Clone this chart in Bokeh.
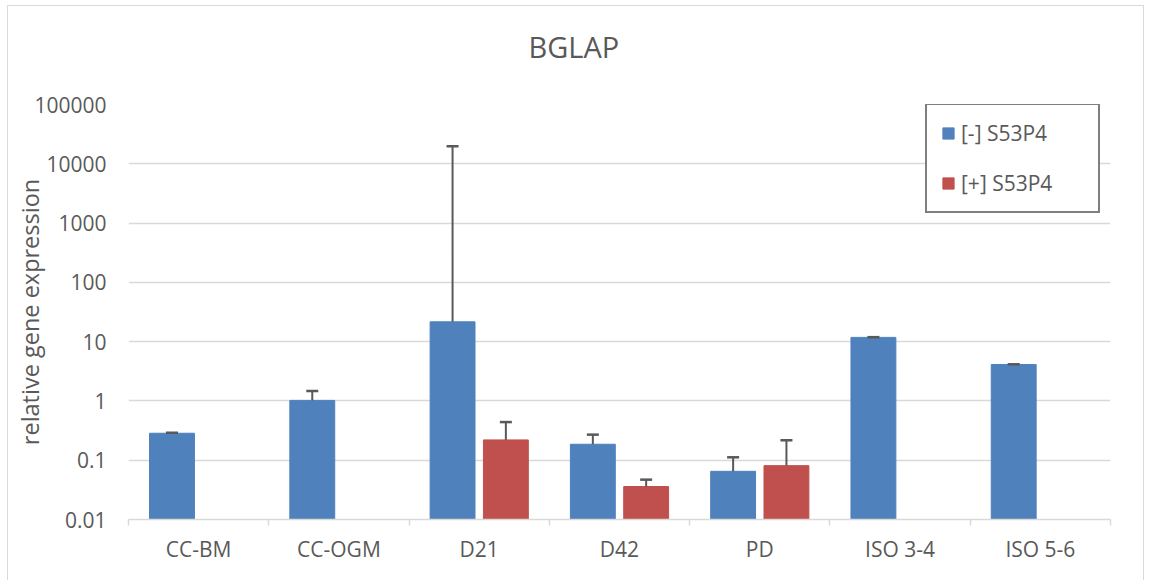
import numpy as np
from bokeh.plotting import figure
from bokeh.models import (ColumnDataSource, Range1d, FixedTicker, CustomJSTickFormatter,
                          Whisker, TeeHead, Title)
from bokeh.embed import file_html
from bokeh.resources import INLINE

# ---- data ----
categories = ["CC-BM", "CC-OGM", "D21", "D42", "PD", "ISO 3-4", "ISO 5-6"]
neg_values = [0.285, 1.02, 21.6, 0.186, 0.065, 11.8, 4.12]
neg_err_top = [0.29, 1.47, 19700, 0.27, 0.112, 11.9, 4.15]
pos_categories = ["D21", "D42", "PD"]
pos_values = [0.22, 0.036, 0.081]
pos_err_top = [0.44, 0.047, 0.217]
y_ticks = [0.01, 0.1, 1, 10, 100, 1000, 10000, 100000]
y_tick_labels = ["0.01", "0.1", "1", "10", "100", "1000", "10000", "100000"]
chart_title = "BGLAP"

BLUE = "#4F81BD"
RED = "#C0504D"
GREY = "#595959"
FONT = "Open Sans"
OFFSET = 0.19
BAR_W = 0.32

idx_neg = np.array([categories.index(c) for c in categories]) + 0.5
idx_pos = np.array([categories.index(c) for c in pos_categories]) + 0.5

src_neg = ColumnDataSource(dict(x=idx_neg - OFFSET, top=neg_values, err=neg_err_top,
                                bottom=[y_ticks[0]] * len(neg_values)))
src_pos = ColumnDataSource(dict(x=idx_pos + OFFSET, top=pos_values, err=pos_err_top,
                                bottom=[y_ticks[0]] * len(pos_values)))

p = figure(frame_width=982, frame_height=415, y_axis_type="log",
           x_range=Range1d(0, len(categories)), y_range=Range1d(y_ticks[0], y_ticks[-1]),
           output_backend="svg", toolbar_location=None, title_location=None,
           min_border_left=120, min_border_right=33, min_border_top=98, min_border_bottom=61)

p.vbar(x="x", top="top", bottom="bottom", width=BAR_W, source=src_neg,
       fill_color=BLUE, line_color=BLUE, legend_label="[-] S53P4")
p.vbar(x="x", top="top", bottom="bottom", width=BAR_W, source=src_pos,
       fill_color=RED, line_color=RED, legend_label="[+] S53P4")

for src in (src_neg, src_pos):
    w = Whisker(base="x", lower="top", upper="err", source=src, dimension="height",
                line_color=GREY, line_width=2, lower_head=None,
                upper_head=TeeHead(size=12, line_color=GREY, line_width=2.5),
                level="annotation")
    p.add_layout(w)

# title: a blank spacer panel next to the frame, then the title text above it
spacer = Title(text=" ", text_font=FONT, text_font_size="10px", standoff=23)
p.add_layout(spacer, "above")
main_title = Title(text=chart_title, text_font=FONT, text_font_size="29px",
                   text_font_style="normal", text_color=GREY, align="left",
                   offset=400, standoff=0)
p.add_layout(main_title, "above")

# y axis
yax = p.yaxis[0]
yax.ticker = FixedTicker(ticks=y_ticks)
yax.formatter = CustomJSTickFormatter(args=dict(yvals=y_ticks, ylabs=y_tick_labels), code="""
let best = 0; let bd = Infinity;
for (let i = 0; i < yvals.length; i++) {
  const d = Math.abs(Math.log10(yvals[i]) - Math.log10(tick));
  if (d < bd) { bd = d; best = i; }
}
return ylabs[best];
""")
yax.axis_line_color = None
yax.major_tick_line_color = None
yax.minor_tick_line_color = None
yax.major_label_text_font = FONT
yax.major_label_text_font_size = "21px"
yax.major_label_text_color = GREY
yax.major_label_standoff = 16
yax.axis_label = "relative gene expression"
yax.axis_label_text_font = FONT
yax.axis_label_text_font_size = "23.5px"
yax.axis_label_text_font_style = "normal"
yax.axis_label_text_color = GREY
yax.axis_label_standoff = -15

# x axis
xax = p.xaxis[0]
xax.ticker = FixedTicker(ticks=list(np.arange(len(categories)) + 0.5),
                         minor_ticks=list(range(len(categories) + 1)))
xax.formatter = CustomJSTickFormatter(args=dict(cat_labels=categories),
                                      code="return cat_labels[Math.floor(tick)];")
xax.axis_line_color = "#D9D9D9"
xax.axis_line_width = 1.5
xax.major_tick_line_color = None
xax.minor_tick_line_color = "#D9D9D9"
xax.minor_tick_line_width = 1.5
xax.minor_tick_in = 0
xax.minor_tick_out = 6
xax.major_label_text_font = FONT
xax.major_label_text_font_size = "21px"
xax.major_label_text_color = GREY
xax.major_label_standoff = 9

p.xgrid.visible = False
p.ygrid.grid_line_color = "#D9D9D9"
p.ygrid.grid_line_width = 1.5
p.outline_line_color = None
p.background_fill_color = "white"
p.border_fill_color = "white"

# legend
lg = p.legend[0]
lg.location = (797, 306)
lg.border_line_color = "black"
lg.border_line_width = 2
lg.background_fill_alpha = 1
lg.label_text_font = FONT
lg.label_text_font_size = "21px"
lg.label_text_color = GREY
lg.glyph_width = 14
lg.glyph_height = 14
lg.label_height = 24
lg.label_width = 123
lg.label_standoff = 6
lg.padding = 14
lg.spacing = 22
lg.margin = 0

p.margin = (5, 0, 0, 7)
p.styles = {"border-top": "1.5px solid #D9D9D9", "border-left": "1.5px solid #D9D9D9",
            "border-right": "1.5px solid #D9D9D9"}

open("out.html", "w").write(file_html(p, INLINE))
